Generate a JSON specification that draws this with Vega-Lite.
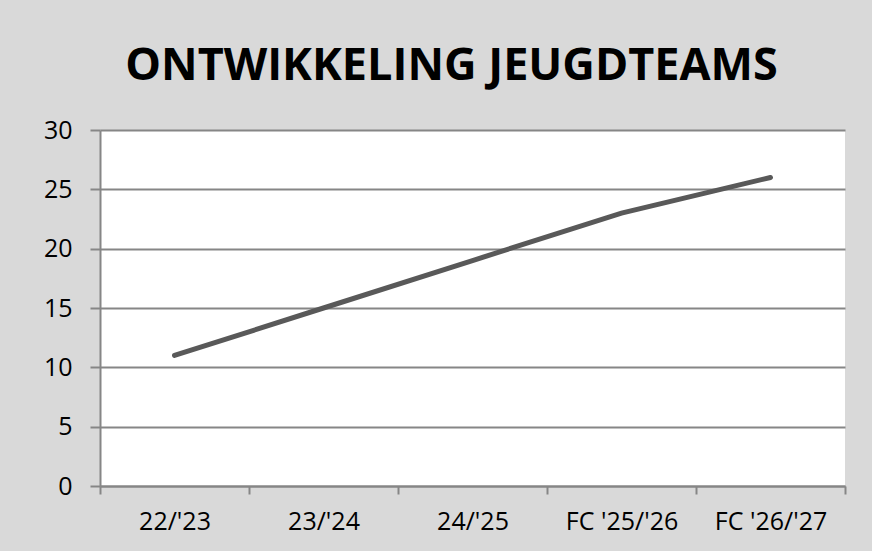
{
  "$schema": "https://vega.github.io/schema/vega-lite/v6.json",
  "width": 745,
  "height": 356,
  "autosize": {"type": "none"},
  "padding": {"left": 100, "top": 130, "right": 27, "bottom": 65},
  "background": "#d9d9d9",
  "title": {
    "text": "ONTWIKKELING JEUGDTEAMS",
    "font": "Open Sans",
    "fontSize": 45,
    "fontWeight": "bold",
    "color": "#000000",
    "anchor": "middle",
    "dx": -21,
    "offset": 29
  },
  "data": {
    "values": [
      {"season": "22/'23", "teams": 11},
      {"season": "23/'24", "teams": 15},
      {"season": "24/'25", "teams": 19},
      {"season": "FC '25/'26", "teams": 23},
      {"season": "FC '26/'27", "teams": 26}
    ]
  },
  "mark": {"type": "line", "color": "#595959", "strokeWidth": 5, "strokeCap": "round"},
  "encoding": {
    "x": {
      "field": "season",
      "type": "ordinal",
      "sort": null,
      "bandPosition": 0.5,
      "scale": {"type": "band", "paddingInner": 0, "paddingOuter": 0},
      "axis": {
        "title": null,
        "labelAngle": 0,
        "tickBand": "extent",
        "domainColor": "#868686",
        "domainWidth": 2,
        "tickColor": "#868686",
        "tickWidth": 2,
        "tickSize": 8,
        "labelFont": "Open Sans",
        "labelFontSize": 25,
        "labelColor": "#000000",
        "labelPadding": 15,
        "grid": false
      }
    },
    "y": {
      "field": "teams",
      "type": "quantitative",
      "scale": {"domain": [0, 30]},
      "axis": {
        "title": null,
        "values": [0, 5, 10, 15, 20, 25, 30],
        "domainColor": "#868686",
        "domainWidth": 2,
        "tickColor": "#868686",
        "tickWidth": 2,
        "tickSize": 10,
        "gridColor": "#868686",
        "gridWidth": 2,
        "labelFont": "Open Sans",
        "labelFontSize": 25,
        "labelColor": "#000000",
        "labelPadding": 18
      }
    }
  },
  "config": {
    "view": {"fill": "#ffffff", "stroke": null}
  }
}
